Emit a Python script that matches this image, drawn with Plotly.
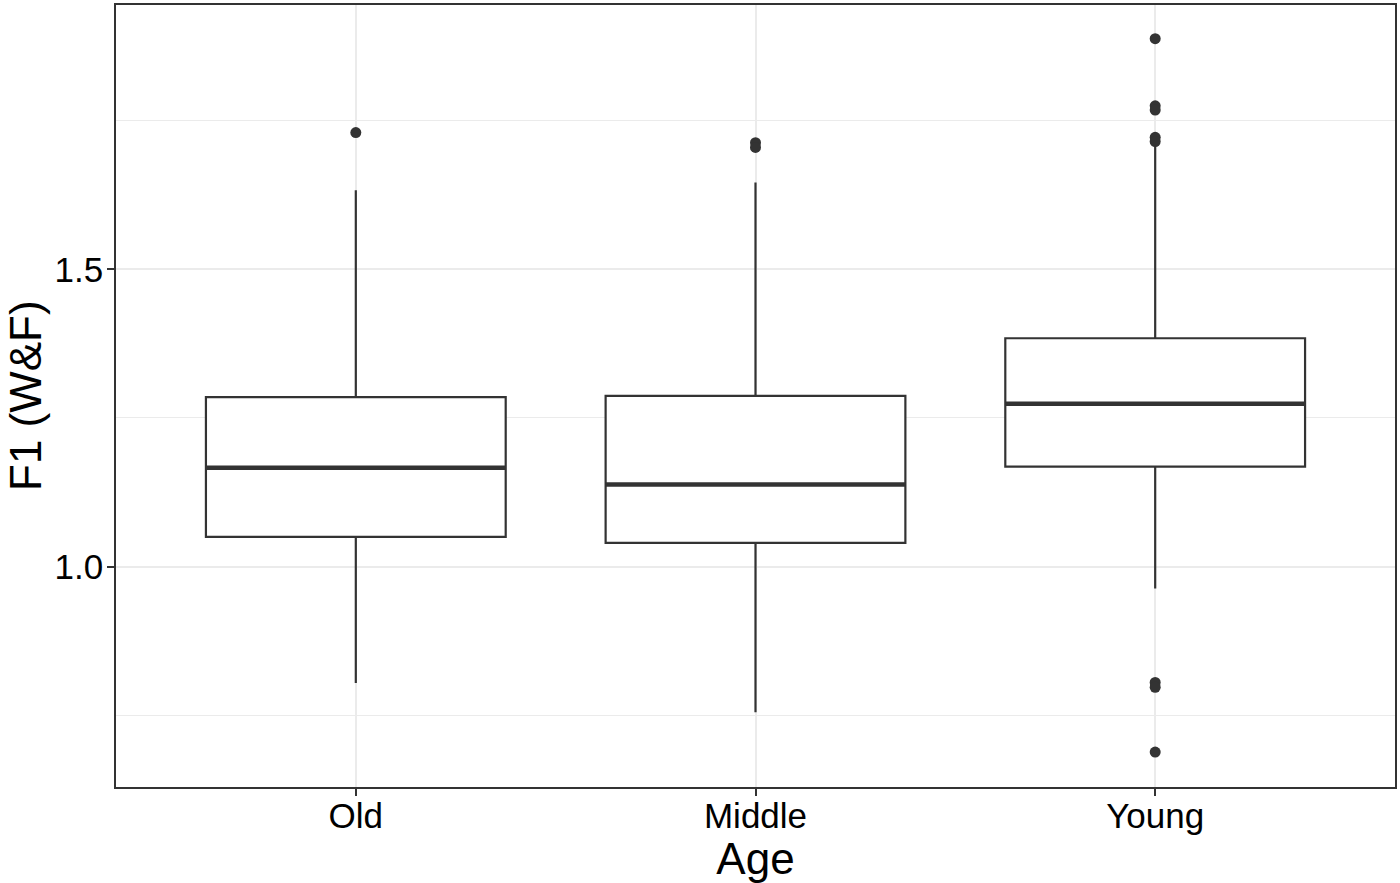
import plotly.graph_objects as go

categories = ["Old", "Middle", "Young"]
positions = [1, 2, 3]
q1 = [1.050, 1.040, 1.168]
median = [1.166, 1.138, 1.274]
q3 = [1.285, 1.287, 1.384]
lower_whisker = [0.804, 0.755, 0.963]
upper_whisker = [1.633, 1.646, 1.708]

outlier_group = [1, 2, 2, 3, 3, 3, 3, 3, 3, 3, 3]
outlier_value = [1.730, 1.713, 1.705, 1.888, 1.775, 1.768, 1.722, 1.715, 0.805, 0.797, 0.688]

box_width = 0.75
line_col = "#333333"
grid_col = "#EBEBEB"
font_fam = "Liberation Sans, Arial, sans-serif"

fig = go.Figure()
fig.add_trace(go.Box(
    x=positions, q1=q1, median=median, q3=q3,
    lowerfence=lower_whisker, upperfence=upper_whisker,
    width=box_width, whiskerwidth=0,
    fillcolor="white", line=dict(color=line_col, width=2.2),
    boxpoints=False, showlegend=False, hoverinfo="skip",
))
for p, m in zip(positions, median):
    fig.add_trace(go.Scatter(
        x=[p - box_width / 2, p + box_width / 2], y=[m, m], mode="lines",
        line=dict(color=line_col, width=4.5), showlegend=False, hoverinfo="skip",
    ))
fig.add_trace(go.Scatter(
    x=outlier_group, y=outlier_value, mode="markers",
    marker=dict(color=line_col, size=11, line=dict(width=0)),
    showlegend=False, hoverinfo="skip",
))

fig.update_layout(
    width=1400, height=883,
    margin=dict(l=116, r=3, t=3, b=96),
    paper_bgcolor="white", plot_bgcolor="white",
    font=dict(family=font_fam, color="black"),
    xaxis=dict(
        range=[0.4, 3.6], tickvals=positions, ticktext=categories,
        showgrid=True, gridcolor=grid_col, gridwidth=2,
        zeroline=False, showline=True, mirror=True, linecolor=line_col, linewidth=1.5,
        ticks="outside", ticklen=7, tickwidth=1.5, tickcolor=line_col,
        ticklabelstandoff=-10,
        tickfont=dict(size=35, color="black", family=font_fam),
        title=dict(text="Age", font=dict(size=44, color="black", family=font_fam), standoff=11),
    ),
    yaxis=dict(
        range=[0.6292, 1.9446], tickvals=[1.0, 1.5], ticktext=["1.0", "1.5"],
        showgrid=True, gridcolor=grid_col, gridwidth=2,
        minor=dict(tickvals=[0.75, 1.25, 1.75], showgrid=True, gridcolor=grid_col, gridwidth=1, ticklen=0),
        zeroline=False, showline=True, mirror=True, linecolor=line_col, linewidth=1.5,
        ticks="outside", ticklen=7, tickwidth=1.5, tickcolor=line_col,
        ticklabelstandoff=-3,
        tickfont=dict(size=35, color="black", family=font_fam),
    ),
    annotations=[dict(
        text="F1 (W&F)", xref="paper", yref="paper", x=0, y=0.5,
        xanchor="center", yanchor="middle", xshift=-91, textangle=-90,
        showarrow=False, font=dict(size=44, color="black", family=font_fam),
    )],
)

fig.write_html(
    "out.html",
    config={"displayModeBar": False},
    post_script="document.body.style.margin='0';document.body.style.padding='0';",
)
